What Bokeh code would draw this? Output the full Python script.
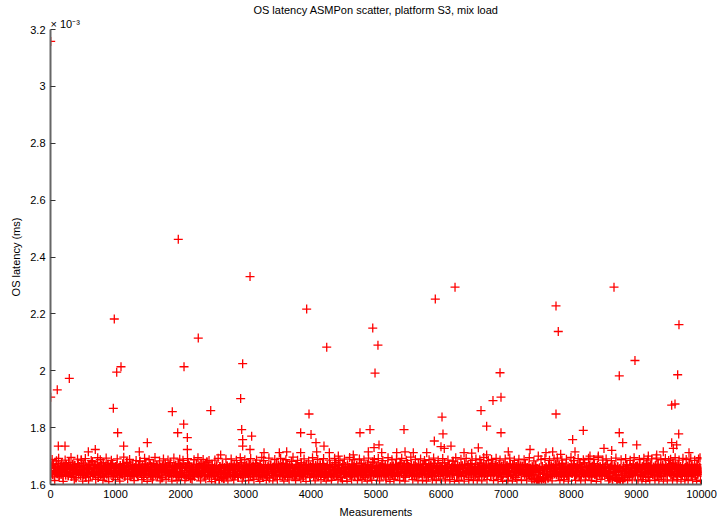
from bokeh.plotting import figure
from bokeh.models import FixedTicker, Title
from bokeh.embed import file_html
from bokeh.resources import INLINE

# ---------------- data (latency in units of 1e-3 ms) ----------------
title_text = "OS latency ASMPon scatter, platform S3, mix load"
x_label = "Measurements"
y_label = "OS latency (ms)"
y_exponent = "× 10⁻³"

# dense band: two interleaved samples, one every 10 measurements each (B shifted by 5),
# offsets in 1e-6 ms above 1.6e-3 ms
band_step = 10
band_shift_b = 5
band_offset_a = [
    58, 41, 66, 35, 72, 49, 27, 61, 44, 83, 38, 55, 69, 30, 47, 62, 36, 74, 51, 29, 65, 43, 57, 33, 70,
    46, 60, 31, 77, 52, 39, 64, 28, 56, 71, 42, 35, 68, 49, 24, 59, 45, 73, 37, 63, 50, 32, 86, 54, 40,
    67, 34, 48, 75, 26, 61, 43, 57, 38, 70, 53, 29, 65, 46, 80, 36, 58, 41, 69, 31, 55, 47, 72, 25, 62,
    44, 56, 33, 68, 51, 39, 76, 27, 60, 45, 64, 37, 52, 71, 30, 57, 48, 66, 35, 43, 74, 28, 59, 50, 38,
    63, 42, 70, 32, 55, 47, 26, 67, 40, 58, 34, 73, 49, 61, 29, 54, 45, 78, 36, 62, 41, 53, 31, 69, 47,
    35, 66, 52, 28, 59, 44, 71, 38, 56, 30, 64, 48, 82, 41, 57, 33, 68, 46, 25, 60, 39, 72, 50, 34, 63,
    54, 37, 45, 69, 31, 62, 48, 27, 74, 42, 58, 36, 51, 67, 29, 55, 43, 70, 33, 61, 47, 24, 65, 40, 57,
    49, 72, 34, 60, 44, 53, 30, 66, 39, 77, 46, 28, 63, 51, 37, 59, 42, 68, 32, 56, 45, 73, 26, 61, 38,
    64, 31, 57, 43, 70, 35, 50, 62, 27, 58, 41, 75, 33, 66, 48, 22, 60, 44, 54, 36, 69, 29, 52, 47, 71,
    40, 59, 28, 65, 45, 33, 73, 38, 55, 49, 61, 30, 67, 42, 56, 79, 35, 62, 46, 27, 58, 51, 37, 68, 43,
    55, 32, 60, 18, 47, 66, 29, 52, 41, 15, 63, 36, 57, 24, 70, 44, 20, 59, 38, 49, 27, 65, 33, 54, 42,
    61, 35, 50, 72, 28, 57, 43, 66, 31, 53, 47, 69, 37, 25, 62, 45, 58, 34, 76, 40, 55, 30, 64, 48, 36,
    52, 67, 39, 58, 26, 71, 44, 33, 60, 49, 37, 65, 29, 56, 42, 74, 35, 51, 63, 28, 57, 46, 68, 32, 59,
    43, 27, 64, 50, 36, 70, 41, 55, 31, 62, 47, 23, 58, 69, 38, 53, 44, 61, 30, 66, 48, 35, 72, 40, 56,
    68, 45, 33, 57, 49, 62, 28, 74, 39, 54, 32, 60, 46, 71, 26, 58, 42, 65, 37, 50, 81, 34, 61, 45, 29,
    57, 40, 69, 34, 53, 46, 63, 30, 58, 42, 76, 36, 51, 27, 66, 44, 59, 33, 70, 48, 38, 62, 52, 25, 64,
    37, 60, 45, 72, 29, 55, 41, 67, 34, 50, 63, 28, 57, 45, 69, 32, 54, 40, 73, 47, 26, 61, 36, 56, 43,
    66, 31, 53, 44, 70, 38, 59, 27, 64, 48, 35, 62, 52, 77, 30, 57, 43, 68, 39, 55, 46, 24, 60, 49, 71,
    42, 58, 35, 63, 47, 29, 69, 53, 40, 61, 33, 56, 45, 72, 37, 50, 64, 28, 59, 44, 67, 38, 54, 31, 62,
    51, 36, 74, 43, 57, 32, 60, 46, 26, 65, 41, 53, 70, 35, 58, 48, 30, 63, 42, 56, 79, 34, 61, 47, 39,
    60, 45, 28, 67, 50, 37, 63, 55, 31, 72, 44, 58, 36, 49, 66, 27, 54, 41, 69, 33, 57, 46, 62, 38, 52,
    34, 65, 48, 56, 29, 71, 43, 59, 37, 52, 64, 30, 75, 46, 39, 61, 54, 32, 68, 45, 26, 58, 41, 73, 50,
    63, 38, 55, 42, 69, 31, 57, 47, 66, 35, 50, 62, 28, 59, 44, 70, 37, 53, 65, 40, 56, 33, 71, 48, 36,
    47, 72, 33, 60, 51, 27, 64, 40, 55, 68, 34, 57, 45, 62, 30, 74, 49, 38, 58, 43, 67, 29, 52, 64, 41,
    58, 44, 66, 36, 53, 76, 31, 59, 48, 37, 63, 42, 70, 27, 56, 47, 61, 35, 82, 50, 39, 65, 45, 54, 32,
    69, 37, 52, 63, 41, 57, 29, 66, 46, 55, 33, 71, 43, 60, 38, 49, 67, 26, 58, 44, 73, 36, 62, 51, 40,
    45, 61, 34, 70, 48, 39, 64, 53, 28, 59, 42, 75, 36, 55, 47, 65, 31, 57, 40, 68, 50, 33, 60, 44, 56,
    62, 30, 57, 46, 73, 35, 54, 41, 67, 49, 32, 63, 52, 38, 70, 44, 58, 27, 64, 47, 36, 69, 53, 42, 59,
    38, 66, 50, 29, 61, 45, 72, 34, 56, 43, 68, 31, 59, 48, 25, 63, 40, 54, 71, 37, 57, 46, 65, 33, 52,
    64, 43, 55, 36, 70, 47, 28, 60, 51, 39, 66, 32, 57, 44, 22, 62, 35, 53, 19, 48, 67, 30, 56, 17, 42,
    14, 58, 26, 49, 12, 63, 37, 20, 55, 44, 16, 61, 33, 52, 23, 68, 40, 57, 29, 65, 46, 34, 60, 50, 38,
    55, 71, 36, 62, 45, 29, 67, 52, 40, 58, 33, 74, 47, 61, 27, 56, 43, 69, 35, 53, 64, 30, 59, 48, 41,
    67, 39, 54, 45, 72, 31, 60, 48, 36, 65, 42, 57, 28, 70, 51, 34, 62, 46, 55, 38, 76, 44, 29, 61, 50,
    43, 59, 33, 68, 47, 56, 27, 64, 41, 52, 73, 35, 60, 45, 30, 66, 49, 57, 37, 62, 42, 55, 31, 69, 46,
    58, 36, 63, 50, 40, 71, 29, 56, 45, 22, 61, 38, 67, 18, 52, 43, 65, 25, 59, 34, 15, 62, 47, 20, 55,
    12, 57, 33, 48, 17, 64, 40, 24, 58, 46, 69, 30, 53, 44, 27, 66, 38, 60, 49, 35, 72, 42, 56, 31, 63,
    47, 65, 36, 58, 43, 70, 32, 54, 48, 62, 28, 67, 41, 56, 37, 73, 45, 59, 26, 64, 50, 39, 68, 44, 53,
    35, 61, 49, 27, 66, 42, 57, 33, 71, 46, 55, 38, 63, 29, 52, 68, 40, 58, 45, 30, 64, 51, 36, 60, 47,
    69, 41, 56, 34, 62, 48, 75, 31, 59, 44, 66, 37, 53, 28, 70, 46, 57, 39, 63, 50, 33, 67, 43, 55, 38,
    60, 45, 29, 64, 52, 37, 71, 48, 57, 33, 66, 43, 54, 40, 62, 31, 58, 47, 69, 36, 55, 44, 61, 50, 42,
]
band_offset_b = [
    58, 41, 88, 35, 72, 49, 14, 61, 44, 83, 38, 55, 92, 30, 47, 62, 36, 74, 51, 11, 65, 43, 86, 33, 70,
    46, 60, 31, 77, 52, 39, 95, 28, 56, 71, 42, 16, 68, 49, 24, 59, 89, 73, 37, 63, 50, 32, 86, 54, 12,
    67, 34, 48, 91, 26, 61, 43, 57, 13, 70, 53, 29, 84, 46, 80, 36, 58, 41, 69, 18, 55, 47, 94, 25, 62,
    44, 87, 33, 68, 51, 15, 76, 27, 60, 45, 93, 37, 52, 71, 10, 57, 48, 66, 85, 43, 74, 28, 59, 50, 17,
    63, 42, 90, 32, 55, 47, 12, 67, 40, 58, 34, 73, 96, 61, 29, 54, 45, 78, 19, 62, 41, 88, 31, 69, 47,
    35, 66, 52, 14, 59, 44, 84, 38, 56, 30, 64, 48, 82, 41, 57, 17, 68, 46, 25, 92, 39, 72, 50, 11, 63,
    54, 87, 45, 69, 31, 62, 16, 27, 74, 42, 95, 36, 51, 67, 29, 55, 43, 83, 13, 61, 47, 24, 65, 90, 57,
    49, 72, 18, 60, 44, 86, 30, 66, 39, 77, 46, 12, 63, 51, 93, 59, 42, 68, 32, 15, 45, 73, 26, 89, 38,
    64, 31, 57, 85, 70, 35, 14, 62, 27, 58, 91, 75, 33, 66, 48, 22, 60, 17, 54, 36, 87, 29, 52, 47, 71,
    40, 94, 28, 65, 45, 13, 73, 38, 55, 88, 61, 30, 67, 19, 56, 79, 35, 62, 84, 27, 58, 51, 10, 68, 43,
    55, 32, 86, 18, 47, 66, 29, 92, 41, 15, 63, 36, 57, 24, 70, 44, 20, 59, 38, 89, 27, 65, 13, 54, 42,
    61, 35, 90, 72, 28, 57, 16, 66, 31, 53, 85, 69, 37, 25, 62, 45, 94, 34, 76, 12, 55, 30, 64, 87, 36,
    52, 67, 39, 58, 14, 71, 44, 91, 60, 49, 37, 65, 18, 56, 42, 74, 86, 51, 63, 28, 57, 11, 68, 32, 95,
    43, 27, 84, 50, 36, 70, 15, 55, 31, 62, 93, 23, 58, 69, 38, 53, 13, 61, 30, 88, 48, 35, 72, 17, 56,
    68, 45, 33, 92, 49, 62, 28, 74, 12, 54, 32, 87, 46, 71, 26, 58, 16, 65, 37, 50, 81, 34, 96, 45, 29,
    57, 14, 69, 34, 85, 46, 63, 30, 58, 19, 76, 36, 51, 27, 90, 44, 59, 11, 70, 48, 38, 83, 52, 25, 64,
    37, 60, 94, 72, 29, 55, 13, 67, 34, 50, 88, 28, 57, 45, 69, 17, 54, 40, 73, 91, 26, 61, 36, 12, 43,
    66, 31, 53, 86, 70, 38, 15, 27, 64, 48, 35, 92, 52, 77, 30, 57, 18, 68, 39, 84, 46, 24, 60, 13, 71,
    42, 89, 35, 63, 47, 11, 69, 53, 40, 95, 33, 56, 16, 72, 37, 50, 87, 28, 59, 44, 67, 14, 54, 31, 90,
    51, 36, 74, 17, 57, 32, 86, 46, 26, 65, 41, 12, 70, 93, 58, 48, 30, 63, 15, 56, 79, 34, 88, 47, 39,
    60, 45, 28, 91, 50, 13, 63, 55, 31, 72, 84, 58, 36, 49, 66, 16, 54, 41, 94, 33, 57, 11, 62, 38, 87,
    34, 65, 18, 56, 29, 71, 89, 59, 37, 52, 64, 14, 75, 46, 92, 61, 54, 32, 68, 12, 26, 85, 41, 73, 50,
    63, 38, 55, 96, 69, 31, 17, 47, 66, 35, 88, 62, 28, 59, 13, 70, 37, 53, 90, 40, 56, 15, 71, 48, 84,
    47, 72, 12, 60, 51, 27, 87, 40, 55, 68, 34, 16, 45, 93, 30, 74, 49, 14, 58, 43, 85, 29, 52, 64, 19,
    58, 44, 91, 36, 53, 76, 13, 59, 48, 37, 86, 42, 70, 17, 56, 47, 61, 35, 82, 50, 11, 65, 94, 54, 32,
    69, 37, 15, 63, 41, 89, 29, 66, 46, 55, 12, 71, 43, 92, 38, 49, 67, 18, 58, 44, 73, 36, 85, 51, 14,
    45, 61, 34, 90, 48, 16, 64, 53, 28, 87, 42, 75, 13, 55, 47, 95, 31, 57, 40, 68, 17, 33, 84, 44, 56,
    62, 30, 88, 46, 73, 14, 54, 41, 67, 92, 32, 63, 18, 38, 70, 86, 58, 27, 64, 11, 36, 69, 53, 90, 59,
    38, 66, 15, 29, 61, 93, 72, 34, 56, 12, 68, 31, 85, 48, 25, 63, 17, 54, 71, 89, 57, 46, 65, 14, 52,
    64, 43, 87, 36, 70, 47, 16, 60, 51, 39, 94, 32, 57, 44, 12, 62, 35, 83, 19, 48, 67, 10, 56, 17, 42,
    14, 58, 26, 88, 12, 63, 37, 20, 55, 91, 16, 61, 33, 52, 23, 68, 85, 57, 29, 65, 13, 34, 60, 90, 38,
    55, 71, 36, 93, 45, 29, 67, 14, 40, 58, 86, 74, 47, 17, 27, 56, 43, 89, 35, 53, 12, 30, 59, 48, 95,
    67, 39, 54, 84, 72, 31, 15, 48, 36, 65, 91, 57, 28, 70, 13, 34, 62, 46, 87, 38, 76, 16, 29, 61, 50,
    43, 92, 33, 68, 47, 14, 27, 64, 41, 88, 73, 35, 60, 11, 30, 66, 95, 57, 37, 62, 18, 55, 31, 86, 46,
    58, 36, 63, 90, 40, 71, 29, 13, 45, 22, 61, 84, 67, 18, 52, 43, 65, 25, 93, 34, 15, 62, 47, 20, 55,
    12, 87, 33, 48, 17, 64, 40, 24, 91, 46, 69, 14, 53, 44, 27, 85, 38, 60, 16, 35, 72, 94, 56, 31, 63,
    47, 65, 13, 58, 88, 70, 32, 54, 17, 62, 28, 92, 41, 56, 11, 73, 45, 86, 26, 64, 15, 39, 68, 90, 53,
    35, 61, 49, 14, 66, 93, 57, 33, 71, 18, 55, 38, 87, 29, 52, 68, 12, 58, 45, 91, 64, 51, 16, 60, 84,
    69, 41, 89, 34, 62, 13, 75, 31, 59, 94, 66, 37, 17, 28, 70, 86, 57, 39, 12, 50, 33, 92, 43, 55, 18,
    60, 88, 29, 64, 14, 37, 71, 48, 93, 33, 66, 16, 54, 40, 85, 31, 58, 11, 69, 36, 90, 44, 61, 15, 42,
]

# individual measurements standing out of the band
outlier_x = [3, 3, 104, 289, 120, 223, 581, 688, 980, 965, 1017, 1083, 1032, 1124, 1364, 1487,
             1871, 1963, 1954, 2051, 2046, 2102, 2102, 2270, 2461, 2614, 2921, 2952, 2937, 2952,
             2952, 3065, 3090, 3065, 3280, 3515, 3628, 3843, 3843, 3935, 3971, 4002, 4078, 4089,
             4201, 4243, 4283, 4421, 4651, 4754, 4908, 4950, 4985, 5030, 4970, 4882, 5046, 5088,
             5318, 5446, 5573, 5779, 5430, 5896, 5911, 5998, 6014, 6029, 6049, 6152, 6214, 6352,
             6470, 6572, 6613, 6700, 6700, 6797, 6905, 6920, 6920, 7032, 7366, 7493, 7611, 7714,
             7765, 7800, 7765, 7837, 8021, 8057, 8184, 8287, 8415, 8502, 8621, 8656, 8737, 8737,
             8790, 8978, 9005, 9183, 9312, 9413, 9542, 9593, 9542, 9619, 9567, 9634, 9654, 9650,
             9808, 9977]
outlier_y = [3.158, 1.907, 1.933, 1.973, 1.735, 1.735, 1.715, 1.723, 2.182, 1.868, 1.995, 2.014,
             1.782, 1.735, 1.715, 1.747, 1.856, 2.462, 1.782, 2.014, 1.812, 1.765, 1.723, 2.115,
             1.860, 1.704, 1.902, 2.025, 1.793, 1.758, 1.735, 2.331, 1.770, 1.723, 1.712, 1.712,
             1.715, 1.782, 1.712, 2.217, 1.848, 1.776, 1.747, 1.715, 1.735, 2.083, 1.712, 1.700,
             1.704, 1.782, 1.793, 2.150, 1.992, 2.090, 1.730, 1.715, 1.739, 1.712, 1.712, 1.715,
             1.712, 1.712, 1.793, 1.753, 2.252, 1.733, 1.837, 1.778, 1.727, 1.735, 2.294, 1.712,
             1.710, 1.729, 1.860, 1.805, 1.704, 1.895, 1.993, 1.907, 1.782, 1.715, 1.723, 1.700,
             1.712, 1.715, 2.228, 2.138, 1.848, 1.706, 1.758, 1.715, 1.790, 1.700, 1.700, 1.727,
             1.720, 2.294, 1.982, 1.782, 1.747, 2.036, 1.739, 1.700, 1.704, 1.715, 1.879, 1.883,
             1.747, 1.739, 1.727, 1.986, 2.162, 1.778, 1.712, 1.694]

y_ticks = [1.6, 1.8, 2.0, 2.2, 2.4, 2.6, 2.8, 3.0, 3.2]
y_tick_labels = ["1.6", "1.8", "2", "2.2", "2.4", "2.6", "2.8", "3", "3.2"]
x_ticks = [0, 1000, 2000, 3000, 4000, 5000, 6000, 7000, 8000, 9000, 10000]

# ---------------- build ----------------
band_x = ([i * band_step for i in range(len(band_offset_a))] +
          [i * band_step + band_shift_b for i in range(len(band_offset_b))])
band_y = [1.6 + v / 1000.0 for v in band_offset_a + band_offset_b]

FONT = "Liberation Sans"

p = figure(width=717, height=525, x_range=(0, 10000), y_range=(1.6, 3.2),
           output_backend="svg", toolbar_location=None,
           min_border_left=50, min_border_right=16, min_border_top=29, min_border_bottom=41)
p.outline_line_color = None
p.grid.visible = False

p.title.text = title_text
p.title.align = "center"
p.title.text_font = FONT
p.title.text_font_size = "11px"
p.title.text_font_style = "normal"
p.title.text_color = "#000000"
p.title.standoff = 0

exp_title = Title(text=y_exponent, align="left", text_font=FONT, text_font_size="11px",
                  text_font_style="normal", text_color="#000000", standoff=0)
p.add_layout(exp_title, "above")

for ax in (p.xaxis[0], p.yaxis[0]):
    ax.axis_line_color = "#666666"
    ax.axis_line_width = 2
    ax.major_tick_in = 5
    ax.major_tick_out = 0
    ax.major_tick_line_color = "#333333"
    ax.minor_tick_line_color = None
    ax.major_label_text_font = FONT
    ax.major_label_text_font_size = "11px"
    ax.major_label_text_color = "#000000"
    ax.axis_label_text_font = FONT
    ax.axis_label_text_font_size = "11px"
    ax.axis_label_text_font_style = "normal"
    ax.axis_label_text_color = "#000000"

p.xaxis[0].ticker = FixedTicker(ticks=x_ticks)
p.xaxis[0].axis_label = x_label
p.yaxis[0].ticker = FixedTicker(ticks=y_ticks)
p.yaxis[0].major_label_overrides = {t: l for t, l in zip(y_ticks, y_tick_labels)}
p.yaxis[0].axis_label = y_label

p.scatter(band_x, band_y, marker="cross", size=9, line_color="#ff0000", line_width=1.3)
p.scatter(outlier_x, outlier_y, marker="cross", size=9, line_color="#ff0000", line_width=1.3)

open("out.html", "w").write(file_html(p, INLINE))
